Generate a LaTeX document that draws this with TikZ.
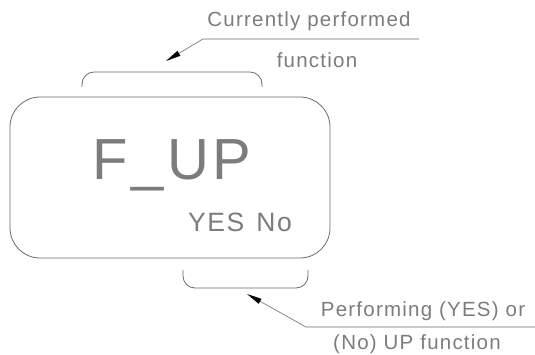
\documentclass[tikz,border=0pt]{standalone}
\usepackage{fontspec}
\usetikzlibrary{arrows.meta, positioning}
\newfontfamily\cadfont[LetterSpace=6]{Liberation Sans}
\definecolor{cadgray}{HTML}{6A6A6A}
\definecolor{cadtext}{HTML}{7C7C7C}

\begin{document}
\begin{tikzpicture}[
    x=1pt, y=-1pt,
    every node/.style={text=cadtext, inner sep=0pt},
    outline/.style={draw=cadgray, line width=0.8pt},
    note/.style={font=\cadfont\fontsize{20.5}{24}\selectfont, anchor=base},
    leader/.style={draw=cadgray, line width=0.6pt, -{Triangle[length=15pt, width=5.5pt, color=black]}}
]
    \useasboundingbox (0,0) rectangle (535,355);

    % display window
    \node[outline, rounded corners=30pt, minimum width=320pt, minimum height=161pt] (display) at (170,177.5) {};
    \node[font=\cadfont\fontsize{58}{60}\selectfont, anchor=base] (func) at (172,180) {F\_UP};
    \node[font=\cadfont\fontsize{26.5}{30}\selectfont, anchor=base] (state) at (240,232) {YES\hspace{12pt}No};

    % brackets
    \draw[outline, rounded corners=12pt] (82,87) -- (82,72) -- (262,72) -- (262,87);
    \draw[outline, rounded corners=12pt] (183,270) -- (183,288) -- (308,288) -- (308,270);

    % notes
    \node[note] (curr1) at (309,27) {Currently performed};
    \node[note] (curr2) at (317,68) {function};
    \node[note] (perf1) at (423,316) {Performing (YES) or};
    \node[note] (perf2) at (417,349) {(No) UP function};

    \coordinate (topend) at (419,39);
    \coordinate (topknee) at (203,39);
    \coordinate (toptip) at (166,61);
    \coordinate (botend) at (535,327);
    \coordinate (botknee) at (306,327);
    \coordinate (bottip) at (247,294);

    \draw[leader] (topend) -- (topknee) -- (toptip);
    \draw[leader] (botend) -- (botknee) -- (bottip);
\end{tikzpicture}
\end{document}
